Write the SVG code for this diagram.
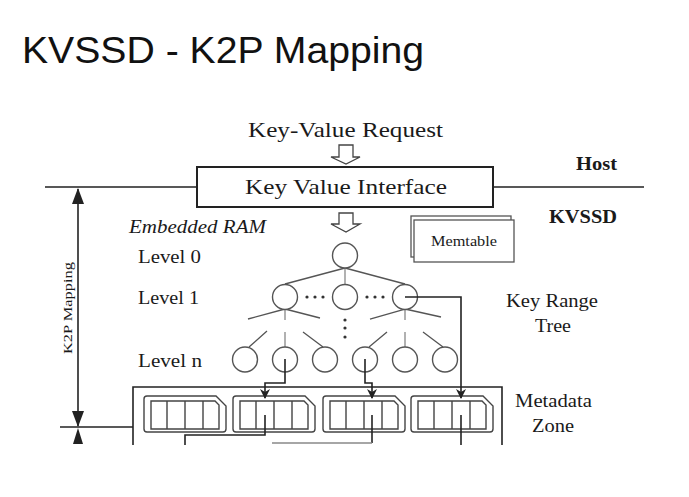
<svg xmlns="http://www.w3.org/2000/svg" width="689" height="497" viewBox="0 0 689 497">
<defs>
<style>
.t{font-family:"Liberation Serif","Times New Roman",serif;fill:#1a1a1a}
.b{font-weight:bold}
.ln{stroke:#222;stroke-width:1.6;fill:none}
.gl{stroke:#555;stroke-width:1.3;fill:none}
.lg{stroke:#888;stroke-width:1.3;fill:none}
.cir{stroke:#555;stroke-width:1.4;fill:#fff}
.blk{stroke:#444;stroke-width:1.4;fill:#fff}
.cell{stroke:#444;stroke-width:1.4;fill:none}
.dot{fill:#333}
</style>
<marker id="ah" markerUnits="userSpaceOnUse" markerWidth="10" markerHeight="10" refX="9" refY="5" orient="auto">
<path d="M0,0 L10,5 L0,10 L3,5 Z" fill="#222"/>
</marker>
<marker id="big" markerUnits="userSpaceOnUse" markerWidth="16" markerHeight="12" refX="15" refY="6" orient="auto-start-reverse">
<path d="M0,0 L16,6 L0,12 Z" fill="#222"/>
</marker>
<g id="block">
<path class="blk" d="M3,0 H72 L82,10 V33 Q82,36 79,36 H3 Q0,36 0,33 V3 Q0,0 3,0 Z"/>
<path class="cell" d="M7,5 H71 L75,9 V33 H7 Z"/>
<path class="cell" d="M23,5 V33 M41,5 V33 M59,5 V33"/>
</g>
</defs>
<rect width="689" height="497" fill="#fff"/>

<text x="22" y="63" font-family="Liberation Sans, Arial, sans-serif" font-size="36" fill="#111" textLength="402" lengthAdjust="spacingAndGlyphs">KVSSD - K2P Mapping</text>

<g id="host-line">
<path class="ln" d="M45,187 H197 M493,187 H644"/>
</g>

<g id="request">
<text class="t" x="248" y="137" font-size="21" textLength="195" lengthAdjust="spacingAndGlyphs">Key-Value Request</text>
<polygon points="339,145 353,145 353,157 360,157 346,164 331,157 339,157" fill="#fff" stroke="#444" stroke-width="1.3"/>
</g>

<g id="kv-interface">
<rect x="197" y="167" width="296" height="40" fill="#fff" stroke="#222" stroke-width="2"/>
<text class="t" x="245" y="194" font-size="21" textLength="202" lengthAdjust="spacingAndGlyphs">Key Value Interface</text>
</g>

<g id="labels">
<text class="t b" x="576" y="170" font-size="18" textLength="41" lengthAdjust="spacingAndGlyphs">Host</text>
<text class="t b" x="549" y="223" font-size="18" textLength="68" lengthAdjust="spacingAndGlyphs">KVSSD</text>
<text class="t" x="129" y="233" font-size="18" font-style="italic" textLength="137" lengthAdjust="spacingAndGlyphs">Embedded RAM</text>
<text class="t" x="138" y="263" font-size="18" textLength="63" lengthAdjust="spacingAndGlyphs">Level 0</text>
<text class="t" x="138" y="304" font-size="18" textLength="61" lengthAdjust="spacingAndGlyphs">Level 1</text>
<text class="t" x="138" y="367" font-size="18" textLength="64" lengthAdjust="spacingAndGlyphs">Level n</text>
<text class="t" x="506" y="307" font-size="19" textLength="92" lengthAdjust="spacingAndGlyphs">Key Range</text>
<text class="t" x="535" y="332" font-size="19" textLength="36" lengthAdjust="spacingAndGlyphs">Tree</text>
<text class="t" x="515" y="407" font-size="19" textLength="77" lengthAdjust="spacingAndGlyphs">Metadata</text>
<text class="t" x="532" y="432" font-size="19" textLength="42" lengthAdjust="spacingAndGlyphs">Zone</text>
</g>

<g id="arrow-ram">
<polygon points="339,213 353,213 353,224 360,224 346,232 331,224 339,224" fill="#fff" stroke="#444" stroke-width="1.3"/>
</g>

<g id="memtable">
<rect x="411" y="216" width="100" height="41" fill="#fff" stroke="#555" stroke-width="1.3"/>
<rect x="414" y="220" width="100" height="42" fill="#fff" stroke="#555" stroke-width="1.3"/>
<text class="t" x="431" y="246" font-size="15" textLength="66" lengthAdjust="spacingAndGlyphs">Memtable</text>
</g>

<g id="k2p-mapping">
<path class="ln" d="M78,189 V426" marker-start="url(#big)" marker-end="url(#big)"/>
<path class="ln" d="M60,427 H133"/>
<polygon points="78,428 73,444 83,444" fill="#222"/>
<text class="t" transform="translate(72,308) rotate(-90)" font-size="13" text-anchor="middle" textLength="92" lengthAdjust="spacingAndGlyphs">K2P Mapping</text>
</g>

<g id="tree-edges">
<path class="gl" d="M345,268 L285,284 M345,268 L405,284"/>
<path class="lg" d="M345,268 V284"/>
<path class="gl" d="M285,309 L248,319 M285,309 L320,318 M405,309 L370,319 M405,309 L441,317"/>
<path class="lg" d="M285,309 V320 M405,309 V320 M285,332 V347 M405,332 V347"/>
<path class="gl" d="M267,331 L249,347 M303,332 L323,347 M387,332 L369,347 M423,332 L443,347"/>
</g>

<g id="level0">
<circle class="cir" cx="345" cy="255.5" r="12.5"/>
</g>
<g id="level1">
<circle class="cir" cx="285" cy="297" r="12.5"/>
<circle class="cir" cx="345" cy="297" r="12.5"/>
<circle class="cir" cx="405" cy="297" r="12.5"/>
<circle class="dot" cx="307" cy="297" r="1.6"/><circle class="dot" cx="315" cy="297" r="1.6"/><circle class="dot" cx="323" cy="297" r="1.6"/>
<circle class="dot" cx="367" cy="297" r="1.6"/><circle class="dot" cx="375" cy="297" r="1.6"/><circle class="dot" cx="383" cy="297" r="1.6"/>
<circle class="dot" cx="345" cy="320" r="1.6"/><circle class="dot" cx="345" cy="328" r="1.6"/><circle class="dot" cx="345" cy="337" r="1.6"/>
</g>
<g id="leveln">
<circle class="cir" cx="245" cy="359.5" r="12.5"/>
<circle class="cir" cx="285" cy="359.5" r="12.5"/>
<circle class="cir" cx="325" cy="359.5" r="12.5"/>
<circle class="cir" cx="365" cy="359.5" r="12.5"/>
<circle class="cir" cx="405" cy="359.5" r="12.5"/>
<circle class="cir" cx="445" cy="359.5" r="12.5"/>
</g>

<g id="metadata-zone">
<path class="ln" d="M133,445 V387 H502 V445"/>
<use href="#block" x="144" y="396"/>
<use href="#block" x="233" y="396"/>
<use href="#block" x="323" y="396"/>
<use href="#block" x="411" y="396"/>
</g>

<g id="connectors">
<path class="ln" d="M405,297 H461 V398" marker-end="url(#ah)"/>
<path class="ln" d="M285,359 V383 H265 V398" marker-end="url(#ah)"/>
<path class="ln" d="M365,359 V383 H372 V398" marker-end="url(#ah)"/>
<path class="ln" d="M265,415 V435 H185 V445"/>
<path class="ln" d="M461,415 V445"/>
<path class="ln" d="M372,415 V443"/>
<path class="lg" d="M272,443 H372"/>
</g>
</svg>
